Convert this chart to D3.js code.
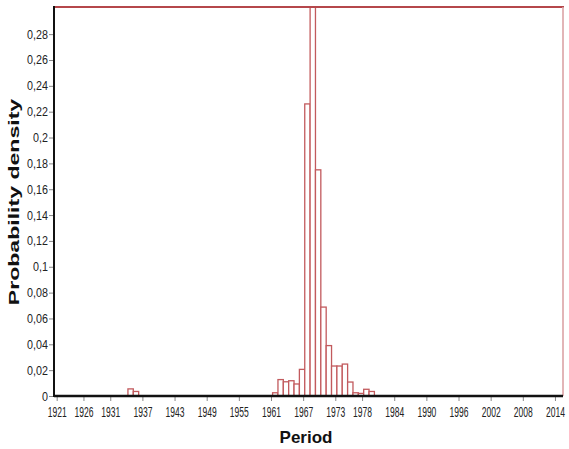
<!DOCTYPE html>
<html lang="en">
<head>
<meta charset="UTF-8">
<title>Probability density by period</title>
<style>
  body { margin: 0; background: #fff; }
  svg { display: block; }
</style>
</head>
<body>
<div id="chart"></div>
<script src="https://d3js.org/d3.v7.min.js"></script>
<script>
  // one-year bins, value (1969 bar runs off the top)
  const binYears = [1934, 1935, 1961, 1962, 1963, 1964, 1965, 1966, 1967, 1968, 1969,
                    1970, 1971, 1972, 1973, 1974, 1975, 1976, 1977, 1978, 1979];
  const density = [0.0055, 0.0035, 0.0025, 0.0127, 0.011, 0.0118, 0.0093, 0.0206, 0.226, 0.33, 0.175,
                   0.0688, 0.039, 0.0232, 0.0232, 0.0247, 0.0108, 0.0025, 0.002, 0.0052, 0.0035];
  const xTicks = [1921, 1926, 1931, 1937, 1943, 1949, 1955, 1961, 1967, 1973, 1978,
                  1984, 1990, 1996, 2002, 2008, 2014];
  const yTicks = [0, 0.02, 0.04, 0.06, 0.08, 0.1, 0.12, 0.14, 0.16, 0.18, 0.2, 0.22, 0.24, 0.26, 0.28];

  const W = 569, H = 449;
  const m = { left: 54, right: 563, top: 7, bottom: 396 };
  const binOffset = 0.3;

  const svg = d3.select("#chart").append("svg")
      .attr("width", W)
      .attr("height", H);

  const x = d3.scaleLinear().domain([1920.5, 2015.5]).range([m.left, m.right]);
  const y = d3.scaleLinear().domain([0, 0.301]).range([m.bottom, m.top]);

  svg.append("clipPath").attr("id", "plot")
    .append("rect")
      .attr("x", m.left).attr("y", m.top)
      .attr("width", m.right - m.left).attr("height", m.bottom - m.top);

  const bins = binYears.map((yr, i) => ({ yr, v: density[i] }));

  svg.append("g")
      .attr("clip-path", "url(#plot)")
    .selectAll("rect")
    .data(bins)
    .join("rect")
      .attr("x", d => x(d.yr + binOffset))
      .attr("y", d => y(d.v))
      .attr("width", d => x(d.yr + binOffset + 1) - x(d.yr + binOffset))
      .attr("height", d => y(0) - y(d.v))
      .attr("fill", "#fff")
      .attr("stroke", "#c25a5d")
      .attr("stroke-width", 1.3);

  // frame: red top, pale red right
  svg.append("line")
      .attr("x1", m.left).attr("x2", m.right + 1)
      .attr("y1", m.top).attr("y2", m.top)
      .attr("stroke", "#b5474b").attr("stroke-width", 2);
  svg.append("line")
      .attr("x1", m.right).attr("x2", m.right)
      .attr("y1", m.top).attr("y2", m.bottom)
      .attr("stroke", "#dba3a5").attr("stroke-width", 1.6);

  const fmt = v => v === 0 ? "0" : String(+v.toFixed(2)).replace(".", ",");

  const yAxis = svg.append("g")
      .attr("transform", `translate(${m.left},0)`)
      .call(d3.axisLeft(y).tickValues(yTicks).tickFormat(fmt).tickSize(5).tickPadding(2));
  yAxis.select(".domain").remove();
  yAxis.selectAll(".tick line").attr("stroke", "#888");
  yAxis.selectAll("text")
      .attr("font-family", "Liberation Sans, Arial, sans-serif")
      .attr("font-size", 12.5)
      .attr("fill", "#222")
      .attr("transform", "scale(0.86,1)");

  const xAxis = svg.append("g")
      .attr("transform", `translate(0,${m.bottom})`)
      .call(d3.axisBottom(x).tickValues(xTicks).tickFormat(d3.format("d")).tickSize(5).tickPadding(6));
  xAxis.select(".domain").remove();
  xAxis.selectAll(".tick line").attr("stroke", "#888");
  // narrow digits, as in the reference
  xAxis.selectAll("text")
      .attr("font-family", "Liberation Sans, Arial, sans-serif")
      .attr("font-size", 14)
      .attr("fill", "#222")
      .attr("transform", "scale(0.61,1)");

  // black axis lines
  svg.append("line")
      .attr("x1", m.left).attr("x2", m.left)
      .attr("y1", m.top - 1).attr("y2", m.bottom + 1)
      .attr("stroke", "#111").attr("stroke-width", 2);
  svg.append("line")
      .attr("x1", m.left).attr("x2", m.right)
      .attr("y1", m.bottom).attr("y2", m.bottom)
      .attr("stroke", "#111").attr("stroke-width", 2.5);

  svg.append("text")
      .attr("x", 306)
      .attr("y", 443)
      .attr("text-anchor", "middle")
      .attr("font-family", "Liberation Sans, Arial, sans-serif")
      .attr("font-weight", "bold")
      .attr("font-size", 17)
      .attr("fill", "#111")
      .text("Period");

  // wide bold title, stretched along its length
  svg.append("text")
      .attr("transform", "translate(19,202) rotate(-90) scale(1.65,1)")
      .attr("text-anchor", "middle")
      .attr("font-family", "Liberation Sans, Arial, sans-serif")
      .attr("font-weight", "bold")
      .attr("font-size", 14)
      .attr("fill", "#111")
      .text("Probability density");
</script>
</body>
</html>
